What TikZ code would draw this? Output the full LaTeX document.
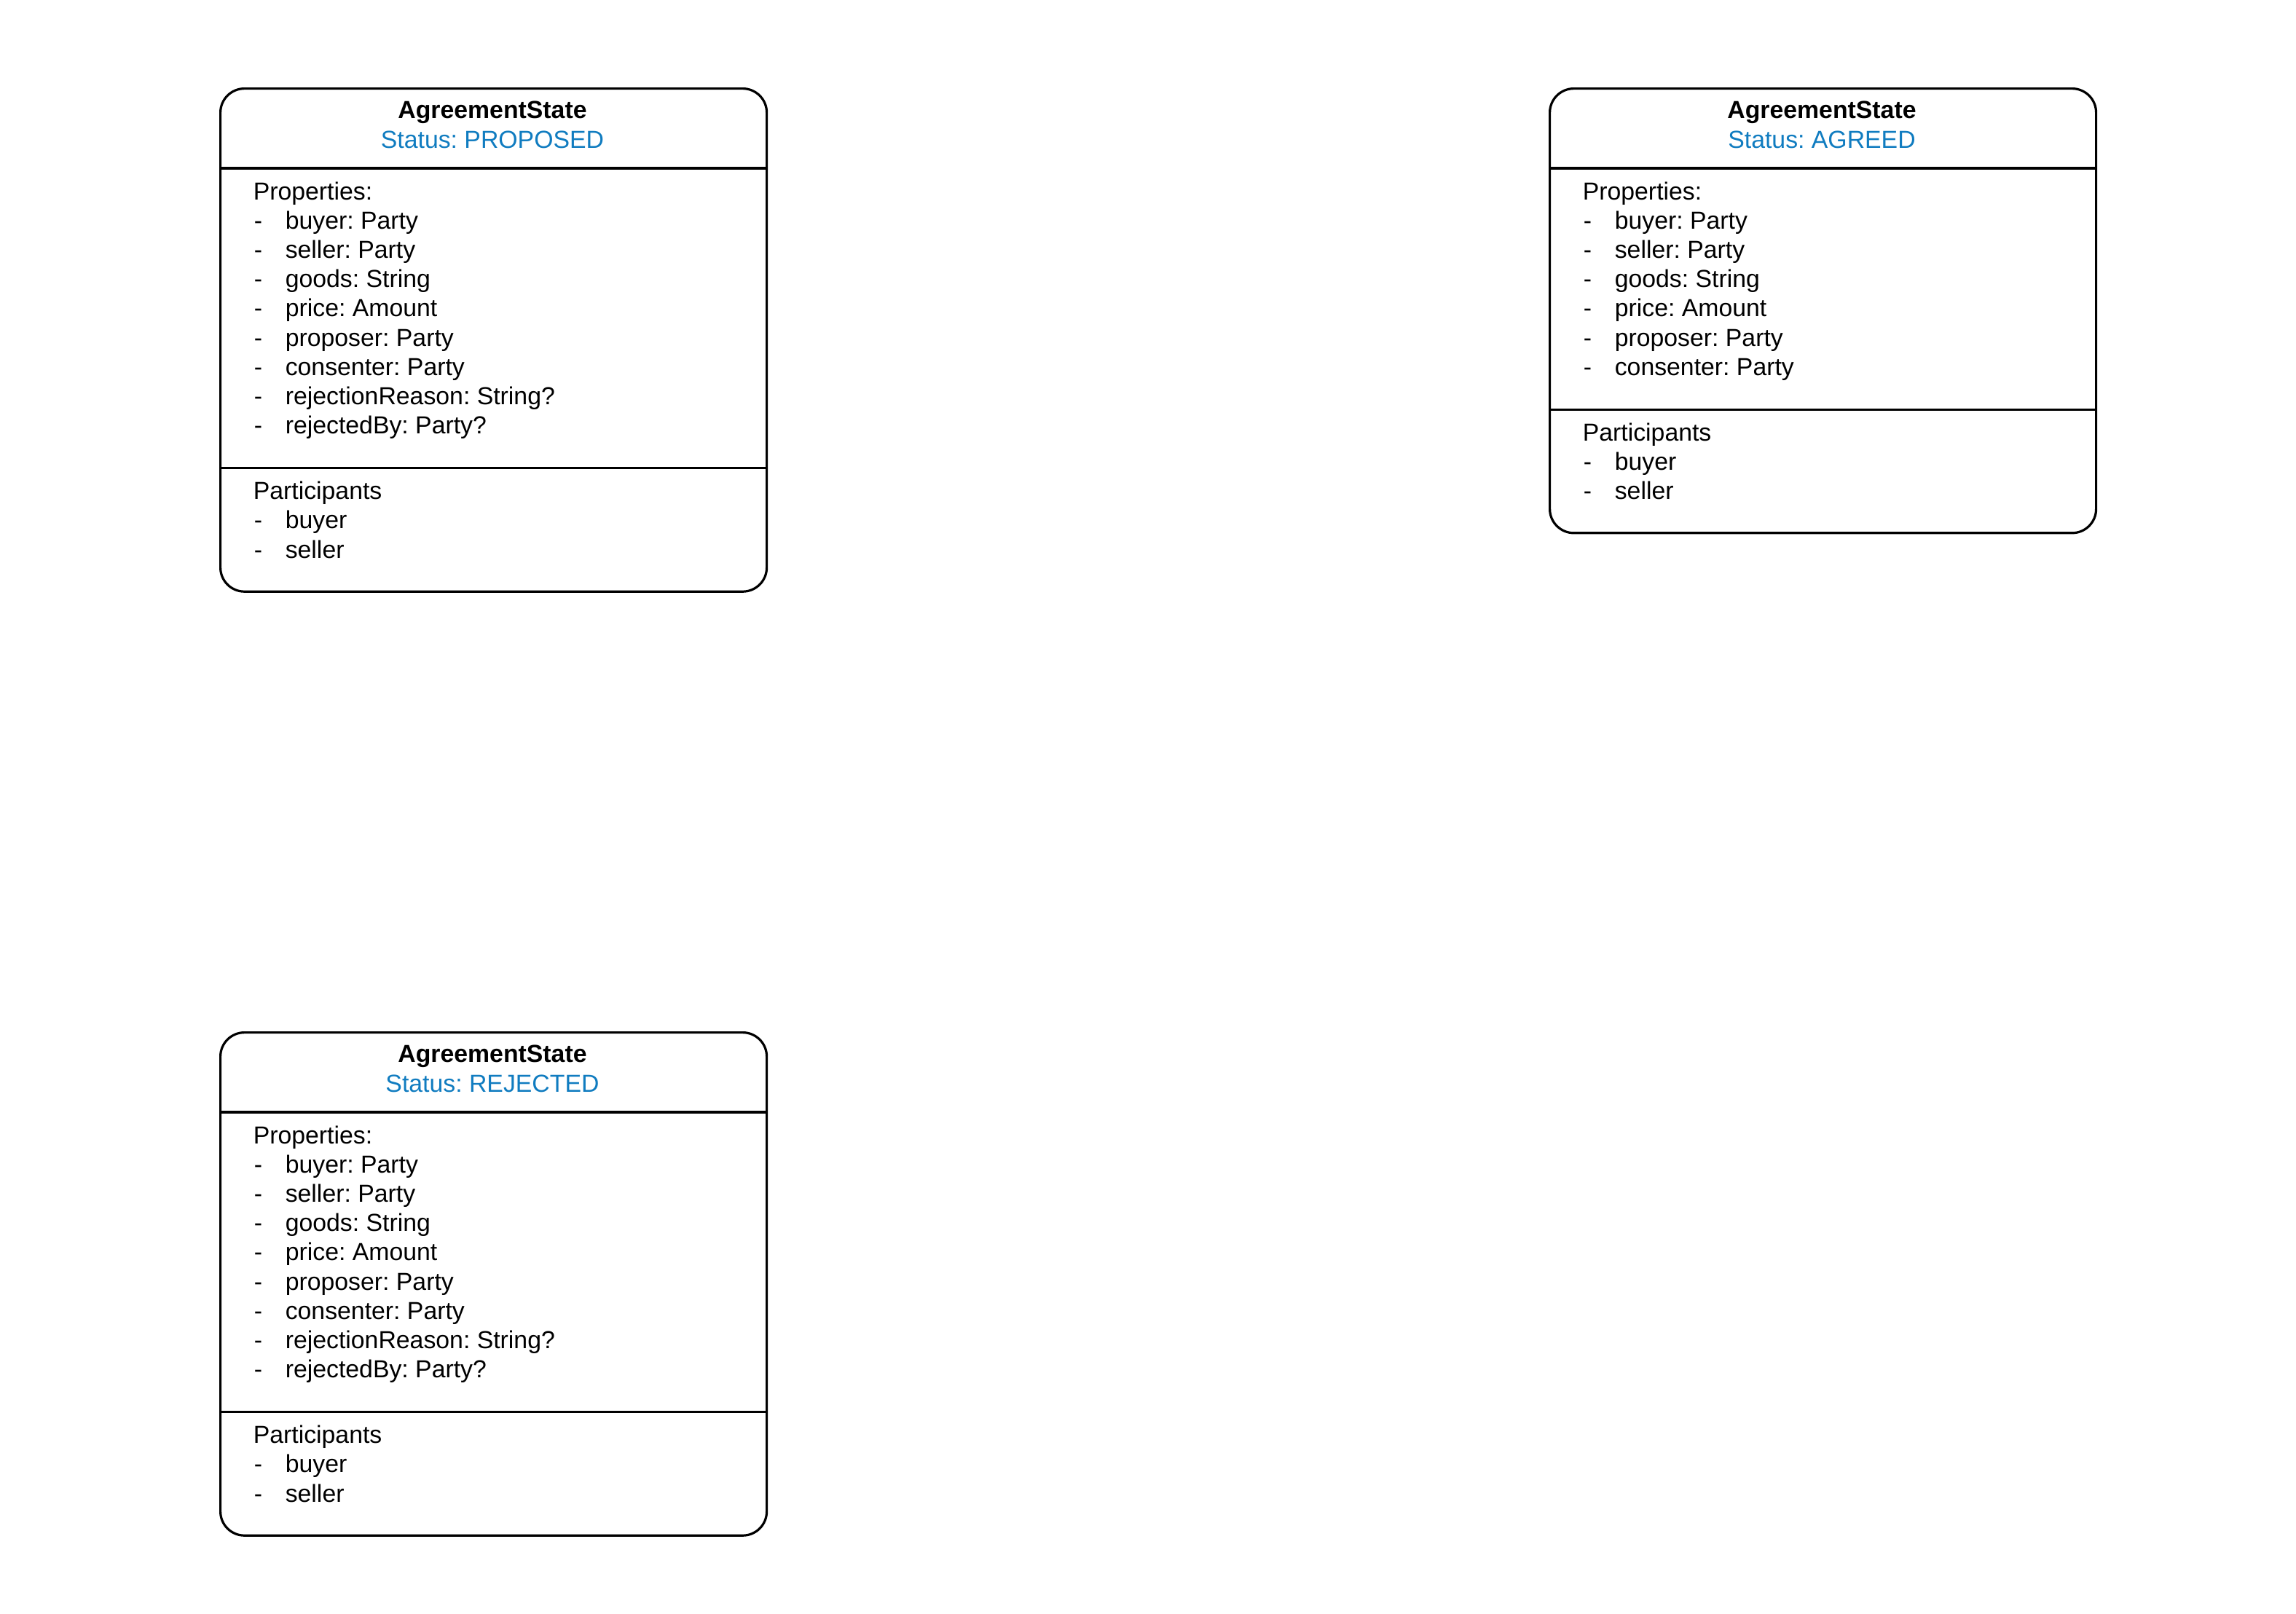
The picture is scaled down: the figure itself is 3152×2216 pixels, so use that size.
\documentclass[tikz,border=0pt]{standalone}
\usepackage{fontspec}
\setmainfont{Liberation Sans}
\frenchspacing
\definecolor{statusblue}{RGB}{16,124,192}

\tikzset{
  statebox/.style={draw=black, line width=0.8pt, rounded corners=8.25pt,
    fill=white, inner sep=0pt, anchor=north west, minimum width=187.5pt},
  rowtext/.style={font=\fontsize{8.45pt}{10pt}\selectfont\frenchspacing,
    inner sep=0pt, anchor=base west},
  titletext/.style={rowtext,
    font=\fontsize{8.45pt}{10pt}\selectfont\frenchspacing\bfseries, anchor=base},
  statustext/.style={rowtext, text=statusblue, anchor=base},
  rule/.style={line width=0.8pt}
}

% #1 name, #2 left, #3 top, #4 status, #5 property list, #6 number of properties
\newcommand\agreementbox[6]{%
  \begin{scope}[shift={(#2,#3)}]
    \pgfmathsetmacro\divy{201+40.2*#6}
    \pgfmathsetmacro\boxh{(\divy+168)*0.25}
    \node[statebox, minimum height=\boxh pt] (#1) at (0,0) {};
    \draw[rule] (0,111) -- (750,111);
    \draw[rule] (0,\divy) -- (750,\divy);
    \node[titletext] (#1-title) at (375,42) {AgreementState};
    \node[statustext] (#1-status) at (375,83) {Status: #4};
    \node[rowtext] (#1-props) at (46,154) {Properties:};
    \foreach \p [count=\i] in {#5} {
      \node[rowtext] (#1-dash\i) at (47,{154+40.2*\i}) {-};
      \node[rowtext] (#1-prop\i) at (90,{154+40.2*\i}) {\p};
    }
    \node[rowtext] (#1-parts) at (46,{\divy+43}) {Participants};
    \node[rowtext] (#1-dashb) at (47,{\divy+83.2}) {-};
    \node[rowtext] (#1-buyer) at (90,{\divy+83.2}) {buyer};
    \node[rowtext] (#1-dashs) at (47,{\divy+123.4}) {-};
    \node[rowtext] (#1-seller) at (90,{\divy+123.4}) {seller};
  \end{scope}%
}

\begin{document}
\begin{tikzpicture}[x=0.25pt, y=-0.25pt]
  \fill[white] (0,0) rectangle (3152,2216);
  \useasboundingbox (0,0) rectangle (3152,2216);

  \agreementbox{proposed}{301}{120}{PROPOSED}{buyer: Party, seller: Party,
    goods: String, price: Amount, proposer: Party, consenter: Party,
    rejectionReason: String?, rejectedBy: Party?}{8}

  \agreementbox{agreed}{2126}{120}{AGREED}{buyer: Party, seller: Party,
    goods: String, price: Amount, proposer: Party, consenter: Party}{6}

  \agreementbox{rejected}{301}{1416}{REJECTED}{buyer: Party, seller: Party,
    goods: String, price: Amount, proposer: Party, consenter: Party,
    rejectionReason: String?, rejectedBy: Party?}{8}
\end{tikzpicture}
\end{document}
